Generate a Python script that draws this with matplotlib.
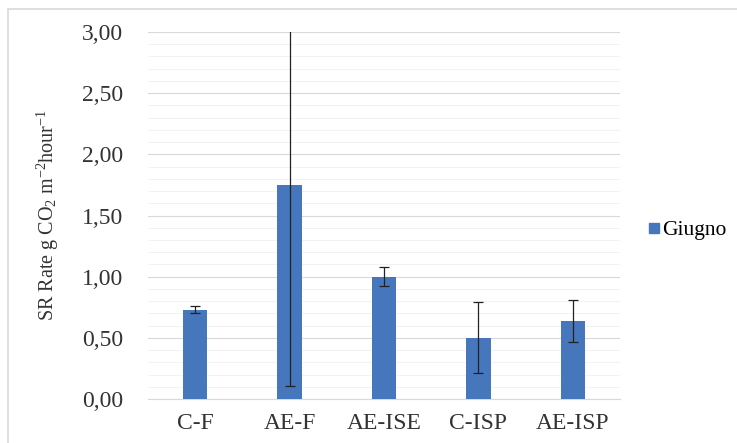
import matplotlib
matplotlib.use("Agg")
import matplotlib.pyplot as plt
from matplotlib.ticker import FuncFormatter, MultipleLocator
from matplotlib.patches import Rectangle
from matplotlib.lines import Line2D

plt.rcParams['font.family'] = ['Liberation Serif', 'DejaVu Serif']
plt.rcParams['mathtext.fontset'] = 'custom'
plt.rcParams['mathtext.rm'] = 'Liberation Serif'
plt.rcParams['mathtext.it'] = 'Liberation Serif:italic'

categories = ["C-F", "AE-F", "AE-ISE", "C-ISP", "AE-ISP"]
giugno = [0.73, 1.75, 1.00, 0.50, 0.64]
giugno_err = [0.03, 1.64, 0.08, 0.29, 0.17]
series_name = "Giugno"
bar_color = "#4677BD"

fig = plt.figure(figsize=(7.37, 4.43), dpi=100)
ax = fig.add_axes([148 / 737, 1 - 399 / 443, (620 - 148) / 737, (399 - 32) / 443])

x = range(len(categories))
ax.bar(x, giugno, width=0.26, color=bar_color, zorder=3,
       yerr=giugno_err, error_kw=dict(ecolor="#222222", elinewidth=0.9, capsize=3.5, capthick=0.9))

ax.set_xlim(-0.5, len(categories) - 0.5)
ax.set_ylim(0, 3.0)
ax.yaxis.set_major_locator(MultipleLocator(0.5))
ax.yaxis.set_minor_locator(MultipleLocator(0.1))
ax.yaxis.set_major_formatter(FuncFormatter(lambda v, p: f"{v:.2f}".replace(".", ",")))
ax.grid(axis="y", which="major", color="#d9d9d9", linewidth=0.8, zorder=0)
ax.grid(axis="y", which="minor", color="#f0f0f0", linewidth=0.6, zorder=0)
ax.set_xticks(list(x))
ax.set_xticklabels(categories)
ax.tick_params(axis="both", which="both", length=0, labelsize=17, colors="#333333")
ax.tick_params(axis="x", pad=10)
ax.tick_params(axis="y", pad=18)
for side in ("top", "right", "left"):
    ax.spines[side].set_visible(False)
ax.spines["bottom"].set_color("#d9d9d9")

ax.set_ylabel(r"SR Rate g CO$_2$ m$^{-2}$hour$^{-1}$", fontsize=14.5, color="#333333", labelpad=15)

handle = Line2D([], [], linestyle="none", marker="s", markersize=7,
                markerfacecolor=bar_color, markeredgecolor=bar_color)
leg = fig.legend([handle], [series_name], loc="center left",
                 bbox_to_anchor=(634 / 737, 1 - 230 / 443), frameon=False,
                 fontsize=15.5, handlelength=0.5, handletextpad=0.1, borderpad=0.2)

fig.patches.append(Rectangle((8 / 737, -0.1), 1.2, 1.1 - 9 / 443, transform=fig.transFigure,
                             fill=False, edgecolor="#d9d9d9", linewidth=1.2))

fig.savefig("out.png", dpi=100)
